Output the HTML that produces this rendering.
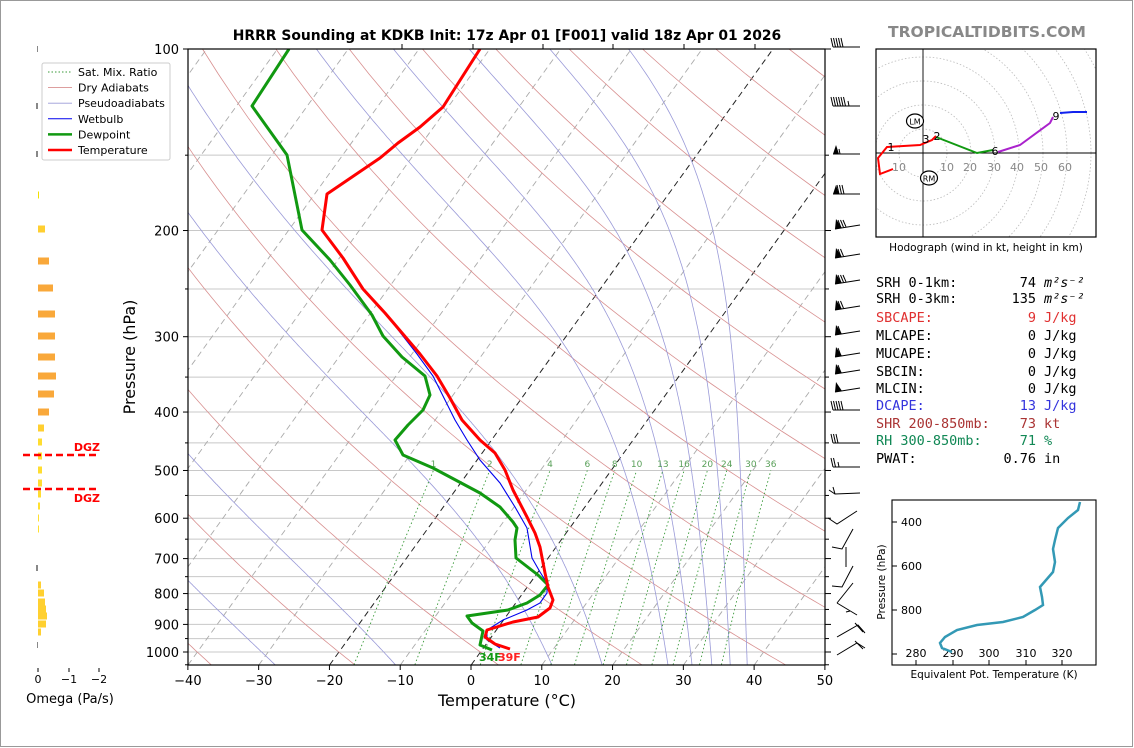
<!DOCTYPE html>
<html><head><meta charset="utf-8">
<style>
html,body{margin:0;padding:0;background:#fff;}
svg{display:block;font-family:"DejaVu Sans","Liberation Sans",sans-serif;}
.mono{font-family:"DejaVu Sans Mono","Liberation Mono",monospace;font-size:13.5px;}
</style></head>
<body>
<svg id="s" width="1134" height="748" viewBox="0 0 1134 748" xmlns="http://www.w3.org/2000/svg">
<rect x="0.5" y="0.5" width="1132" height="746" fill="#fff" stroke="#999"/>
<defs><clipPath id="pc"><rect x="188" y="49" width="637" height="616"/></clipPath>
<clipPath id="hc"><rect x="876" y="49" width="220" height="188"/></clipPath></defs>
<g id="bg" clip-path="url(#pc)"></g>
<g id="fg"></g>
</svg>
<script>
const NS="http://www.w3.org/2000/svg";
const bg=document.getElementById('bg'), fg=document.getElementById('fg');
function el(tag,attrs,parent,text){const e=document.createElementNS(NS,tag);for(const k in attrs)e.setAttribute(k,attrs[k]);if(text!==undefined)e.textContent=text;(parent||fg).appendChild(e);return e;}
const Y=p=>49+603*Math.log10(p/100);
const X=(T,p)=>471+7.078*T+0.72*(665-Y(p));
function path(pts){return pts.map((q,i)=>(i?'L':'M')+q[0].toFixed(1)+','+q[1].toFixed(1)).join('');}
for(let p=100;p<=1000;p+=50) el('line',{x1:188,x2:825,y1:Y(p),y2:Y(p),stroke:'#c8c8c8','stroke-width':1},bg);
for(let T=-130;T<=50;T+=10){const black=(T===0||T===-20);
 el('line',{x1:X(T,1050),y1:665,x2:X(T,100),y2:49,stroke:black?'#222':'#aaa','stroke-width':black?1:0.9,'stroke-dasharray':'6,4'},bg);}
for(let th=153.15;th<=533.15;th+=20){const pts=[];for(let p=1050;p>=100;p-=10){pts.push([X(th*Math.pow(p/1000,0.2857)-273.15,p),Y(p)]);}
 el('path',{d:path(pts),fill:'none',stroke:'#d89090','stroke-width':0.8},bg);}
function es(T){return 6.112*Math.exp(17.67*T/(T+243.5));}
function dTdp(Tc,p){const T=Tc+273.15;const e=es(Tc);const rs=0.622*e/(p-e);const Lv=2.5e6,Rd=287,cp=1004;
 return (Rd*T+Lv*rs)/(p*(cp+Lv*Lv*rs*0.622/(Rd*T*T)));}
[-45,-27.7,-10.7,11.4,18.5,27.8,31.2,34,36.6,39].forEach(t0=>{let T=t0,p=1050;const pts=[[X(T,p),Y(p)]];
 while(p>100){const dp=-2;const k1=dTdp(T,p),k2=dTdp(T+k1*dp/2,p+dp/2);T+=k2*dp;p+=dp;pts.push([X(T,p),Y(p)]);}
 el('path',{d:path(pts),fill:'none',stroke:'#9a9ad8','stroke-width':0.8},bg);});
[1,2,4,6,8,10,13,16,20,24,30,36].forEach(w=>{const pts=[];for(let p=1050;p>=500;p-=10){const e=w/1000*p/(0.622+w/1000);const l=Math.log(e/6.112);const Td=243.5*l/(17.67-l);pts.push([X(Td,p),Y(p)]);}
 el('path',{d:path(pts),fill:'none',stroke:'#3a9a3a','stroke-width':0.9,'stroke-dasharray':'1.5,2.5'},bg);
 const q=pts[pts.length-1];el('text',{x:q[0],y:467,'font-size':9,fill:'#5aa05a','text-anchor':'middle'},bg,String(w));});
const wb=[[480,50],[443,107],[420,127],[398,143],[380,158],[327,194],[322,230],[343,258],[363,289],[385,313],[417,354],[433,376],[444,398],[455,420],[467,440],[480,460],[500,483],[515,507],[527,528],[532,558],[540,572],[547,583],[547,593],[540,603],[527,610],[503,620],[487,630],[487,640],[500,648]];
el('path',{d:path(wb),fill:'none',stroke:'#0000ee','stroke-width':1.1},bg);
const td=[[289,49],[252,106],[287,155],[302,230],[330,260],[350,285],[372,315],[383,336],[402,357],[425,376],[430,395],[423,410],[408,425],[395,440],[403,455],[433,468],[480,493],[500,507],[513,522],[517,528],[515,540],[516,558],[538,575],[548,585],[540,595],[527,603],[508,610],[467,616],[472,623],[483,631],[480,645],[492,650]];
el('path',{d:path(td),fill:'none',stroke:'#119911','stroke-width':3,'stroke-linejoin':'round'},bg);
const tt=[[480,49],[443,107],[420,127],[398,143],[380,158],[327,194],[322,230],[343,258],[363,289],[385,313],[420,354],[437,376],[450,398],[462,420],[480,440],[495,453],[505,470],[513,490],[527,517],[535,533],[540,547],[545,573],[548,587],[553,600],[550,608],[538,617],[513,622],[487,630],[485,637],[495,644],[510,649]];
el('path',{d:path(tt),fill:'none',stroke:'#ff0000','stroke-width':3,'stroke-linejoin':'round'},bg);
el('text',{x:479,y:661,'font-size':11,'font-weight':'bold',fill:'#119911'},fg,'34F');
el('text',{x:498,y:661,'font-size':11,'font-weight':'bold',fill:'#ff2020'},fg,'39F');
el('rect',{x:188,y:49,width:637,height:616,fill:'none',stroke:'#000','stroke-width':1.2});
[100,200,300,400,500,600,700,800,900,1000].forEach(p=>{el('line',{x1:183,x2:188,y1:Y(p),y2:Y(p),stroke:'#000'});
 el('text',{x:179,y:Y(p)+5,'font-size':13,'text-anchor':'end'},fg,String(p));});
for(let p=150;p<=1050;p+=100){el('line',{x1:185,x2:188,y1:Y(p),y2:Y(p),stroke:'#000'});el('line',{x1:825,x2:829,y1:Y(p),y2:Y(p),stroke:'#000'});}
[100,200,300,400,500,600,700,800,900,1000].forEach(p=>el('line',{x1:825,x2:831,y1:Y(p),y2:Y(p),stroke:'#000'}));
for(let T=-40;T<=50;T+=10){const x=471+7.078*T;el('line',{x1:x,x2:x,y1:665,y2:670,stroke:'#000'});
 el('text',{x:x,y:685,'font-size':13,'text-anchor':'middle'},fg,(T<0?'\u2212':'')+Math.abs(T));}
[402,473,543,613,684,755].forEach(x=>el('line',{x1:x,x2:x,y1:49,y2:44,stroke:'#000'}));
el('text',{x:507,y:706,'font-size':16,'text-anchor':'middle'},fg,'Temperature (\u00b0C)');
el('text',{x:0,y:0,'font-size':16,'text-anchor':'middle',transform:'translate(135,357) rotate(-90)'},fg,'Pressure (hPa)');
el('text',{x:507,y:40,'font-size':13.9,'font-weight':'bold','text-anchor':'middle'},fg,'HRRR Sounding at KDKB Init: 17z Apr 01 [F001] valid 18z Apr 01 2026');
el('text',{x:987,y:37,'font-size':15.5,'font-weight':'bold','text-anchor':'middle',fill:'#888'},fg,'TROPICALTIDBITS.COM');
el('rect',{x:42,y:63,width:128,height:97,fill:'#fff',stroke:'#ccc',rx:2});
[['Sat. Mix. Ratio','#3a9a3a',0.9,'1.5,2'],['Dry Adiabats','#d89090',0.9],['Pseudoadiabats','#9a9ad8',0.9],['Wetbulb','#0000ee',1],['Dewpoint','#119911',2.5],['Temperature','#ff0000',2.5]].forEach((L,i)=>{const y=72+i*15.6;
 const a={x1:48,x2:72,y1:y,y2:y,stroke:L[1],'stroke-width':L[2]};if(L[3])a['stroke-dasharray']=L[3];el('line',a);
 el('text',{x:78,y:y+4,'font-size':11},fg,L[0]);});
const bars=[[195,1,'#f2e000'],[229,7,'#ffcf30'],[261,11,'#f9a83a'],[288,15,'#f9a83a'],[314,17,'#f9a83a'],[336,17,'#f9a83a'],[357,17,'#f9a83a'],[376,18,'#f9a83a'],[394,16,'#f9a83a'],[412,11,'#f9a83a'],[428,6,'#ffcf30'],[442,4,'#ffdd30'],[456,4,'#ffdd30'],[470,4,'#ffdd30'],[483,4,'#ffdd30'],[494,3,'#ffdd30'],[506,2,'#ffe030'],[518,1,'#ffe030'],[529,1,'#ffe030'],[585,3,'#ffd030'],[593,6,'#ffd030'],[602,7,'#ffd030'],[609,8,'#ffd030'],[616,9,'#ffd030'],[624,8,'#ffd030'],[632,3,'#ffd030']];
bars.forEach(b=>el('rect',{x:38,y:b[0]-3.5,width:b[1],height:7,fill:b[2]}));
[[49,1],[106,2],[154,2],[568,2],[645,1]].forEach(g=>el('rect',{x:38-g[1],y:g[0]-3,width:g[1],height:6,fill:'#888'}));
el('line',{x1:23,x2:99,y1:455,y2:455,stroke:'#ff0000','stroke-width':2.5,'stroke-dasharray':'7,4'});
el('line',{x1:23,x2:99,y1:489,y2:489,stroke:'#ff0000','stroke-width':2.5,'stroke-dasharray':'7,4'});
el('text',{x:100,y:451,'font-size':11,'font-weight':'bold',fill:'#ff0000','text-anchor':'end'},fg,'DGZ');
el('text',{x:100,y:502,'font-size':11,'font-weight':'bold',fill:'#ff0000','text-anchor':'end'},fg,'DGZ');
[[38,'0'],[69,'\u22121'],[99,'\u22122']].forEach(t=>{el('line',{x1:t[0],x2:t[0],y1:668,y2:672,stroke:'#000'});el('text',{x:t[0],y:683,'font-size':11,'text-anchor':'middle'},fg,t[1]);});
el('text',{x:70,y:703,'font-size':13,'text-anchor':'middle'},fg,'Omega (Pa/s)');
function barbH(y,flags,barbs,halfEnd){const x0=833;el('line',{x1:x0,x2:860,y1:y,y2:y,stroke:'#000','stroke-width':1});let x=x0;
 for(let i=0;i<flags;i++){el('polygon',{points:`${x},${y} ${x+3},${y-9} ${x+6},${y}`,fill:'#000'});x+=6;}
 for(let i=0;i<barbs;i++){el('line',{x1:x,y1:y,x2:x-2,y2:y-9,stroke:'#000','stroke-width':1});x+=2.5;}
 if(halfEnd){el('line',{x1:x+1,y1:y,x2:x,y2:y-5,stroke:'#000'});}}
barbH(47,0,5);barbH(106,0,6,1);barbH(154,1,0,1);barbH(194,1,3);
function barbA(y,flags,barbs){const x0=835,x1=860,y1=y-4;el('line',{x1:x0,y1:y,x2:x1,y2:y1,stroke:'#000'});let x=x0;
 for(let i=0;i<flags;i++){el('polygon',{points:`${x},${y} ${x+1},${y-10} ${x+7},${y-1}`,fill:'#000'});x+=6;}
 for(let i=0;i<barbs;i++){el('line',{x1:x,y1:y-0.2*(x-x0),x2:x-3,y2:y-9,stroke:'#000'});x+=2.5;}}
barbA(229,1,3);barbA(258,1,2);barbA(284,1,3);barbA(310,1,2);barbA(335,1,1);barbA(357,1,1);barbA(374,1,1);barbA(392,1,0);
barbH(410,0,5);barbH(443,0,3);barbH(467,0,2,1);
[[[829,490],[835,494],[860,493]],[[828,518],[837,524],[857,511]],[[832,547],[842,549],[853,529]],[[846,547],[846,567]],[[832,586],[842,587],[853,566]],[[837,603],[857,615]],[[837,603],[853,583]],[[837,637],[858,625],[865,633]],[[837,655],[857,643],[865,648]],[[855,623],[863,632]],[[855,641],[863,649]],[[833,487],[835,494]],[[846,612],[850,611]]].forEach(l=>el('path',{d:path(l),fill:'none',stroke:'#000','stroke-width':1}));
el('rect',{x:876,y:49,width:220,height:188,fill:'#fff'});
const hg=el('g',{'clip-path':'url(#hc)'});
for(let r=24;r<=240;r+=24)el('circle',{cx:923,cy:153,r:r,fill:'none',stroke:'#bbb','stroke-width':0.8,'stroke-dasharray':'1.5,2'},hg);
el('line',{x1:923,x2:923,y1:49,y2:237,stroke:'#000','stroke-width':0.9},hg);
el('line',{x1:876,x2:1096,y1:153,y2:153,stroke:'#000','stroke-width':0.9},hg);
[[899,'10'],[947,'10'],[970,'20'],[994,'30'],[1017,'40'],[1041,'50'],[1065,'60']].forEach(t=>el('text',{x:t[0],y:171,'font-size':11,fill:'#888','text-anchor':'middle'},hg,t[1]));
el('path',{d:path([[893,169],[880,174],[878,158],[887,147],[920,145],[932,140],[936,136]]),fill:'none',stroke:'#ff0000','stroke-width':2},hg);
el('path',{d:path([[936,137],[977,153],[993,150]]),fill:'none',stroke:'#119911','stroke-width':2},hg);
el('path',{d:path([[998,152],[1020,145],[1050,123],[1053,117]]),fill:'none',stroke:'#aa22cc','stroke-width':2},hg);
el('path',{d:path([[1060,113],[1073,112],[1087,112]]),fill:'none',stroke:'#1122ee','stroke-width':2},hg);
[[891,151,'1'],[926,143,'3'],[937,140,'2'],[995,155,'6'],[1056,120,'9']].forEach(t=>el('text',{x:t[0],y:t[1],'font-size':11,'text-anchor':'middle'},hg,t[2]));
el('ellipse',{cx:915,cy:121,rx:8.5,ry:7,fill:'#fff',stroke:'#000','stroke-width':1.2},hg);el('text',{x:915,y:124.5,'font-size':8,'text-anchor':'middle'},hg,'LM');
el('ellipse',{cx:929,cy:178,rx:8.5,ry:7,fill:'#fff',stroke:'#000','stroke-width':1.2},hg);el('text',{x:929,y:181.5,'font-size':8,'text-anchor':'middle'},hg,'RM');
el('rect',{x:876,y:49,width:220,height:188,fill:'none',stroke:'#000','stroke-width':1.2});
el('text',{x:986,y:251,'font-size':10.5,'text-anchor':'middle'},fg,'Hodograph (wind in kt, height in km)');
const rows=[['SRH 0-1km:','74','m\u00b2s\u207b\u00b2','#000',287],['SRH 0-3km:','135','m\u00b2s\u207b\u00b2','#000',303],['SBCAPE:','9','J/kg','#e03030',322],['MLCAPE:','0','J/kg','#000',340],['MUCAPE:','0','J/kg','#000',358],['SBCIN:','0','J/kg','#000',376],['MLCIN:','0','J/kg','#000',393],['DCAPE:','13','J/kg','#3333dd',410],['SHR 200-850mb:','73','kt','#aa3333',428],['RH 300-850mb:','71','%','#118855',445],['PWAT:','0.76','in','#000',463]];
rows.forEach(r=>{el('text',{x:876,y:r[4],class:'mono',fill:r[3]},fg,r[0]);el('text',{x:1036,y:r[4],class:'mono',fill:r[3],'text-anchor':'end'},fg,r[1]);
 const u=el('text',{x:1044,y:r[4],class:'mono',fill:r[3]},fg,r[2]);if(r[2][0]==='m'){u.setAttribute('font-style','italic');u.setAttribute('font-family','DejaVu Serif, serif');}});
el('rect',{x:892,y:500,width:204,height:165,fill:'none',stroke:'#000','stroke-width':1.1});
[[916,'280'],[953,'290'],[989,'300'],[1026,'310'],[1062,'320']].forEach(t=>{el('line',{x1:t[0],x2:t[0],y1:660,y2:665,stroke:'#000'});el('text',{x:t[0],y:657,'font-size':11,'text-anchor':'middle'},fg,t[1]);});
[[522,'400'],[566,'600'],[610,'800'],[654,'']].forEach(t=>{el('line',{x1:892,x2:897,y1:t[0],y2:t[0],stroke:'#000'});if(t[1])el('text',{x:901,y:t[0]+4,'font-size':11},fg,t[1]);});
el('path',{d:path([[1080,502],[1078,510],[1068,518],[1058,528],[1055,540],[1053,549],[1055,562],[1053,572],[1040,587],[1042,597],[1043,605],[1035,610],[1023,617],[1003,622],[977,625],[957,630],[945,637],[940,643],[942,648],[952,652]]),fill:'none',stroke:'#3399b5','stroke-width':2.5});
el('text',{x:0,y:0,'font-size':10.5,'text-anchor':'middle',transform:'translate(885,582) rotate(-90)'},fg,'Pressure (hPa)');
el('text',{x:994,y:678,'font-size':10.5,'text-anchor':'middle'},fg,'Equivalent Pot. Temperature (K)');
</script>
</body></html>
